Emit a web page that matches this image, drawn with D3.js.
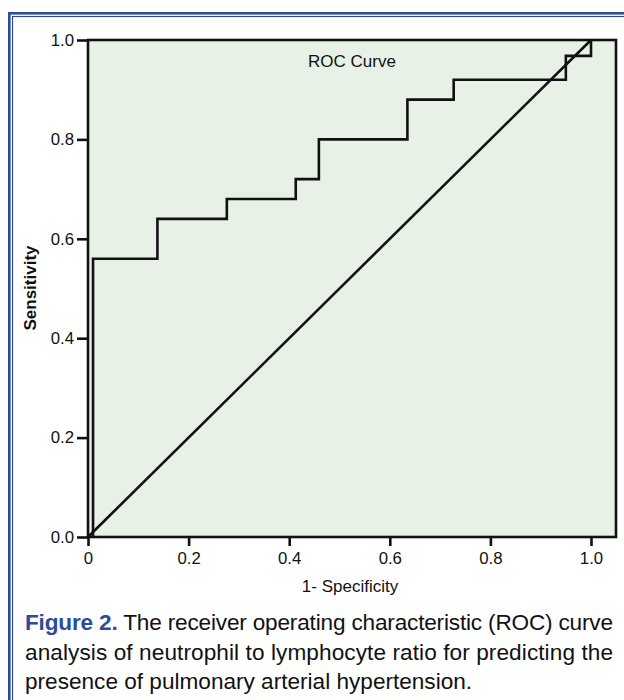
<!DOCTYPE html>
<html>
<head>
<meta charset="utf-8">
<script src="https://cdn.jsdelivr.net/npm/d3@7"></script>
<style>
  html, body { margin: 0; padding: 0; background: #fff; }
  body { width: 624px; height: 700px; overflow: hidden; }
</style>
</head>
<body>
<svg id="chart" width="624" height="700" style="display:block"></svg>
<script>
// ROC step points (1 - specificity, sensitivity)
const fpr  = [0.01, 0.01, 0.138, 0.138, 0.276, 0.276, 0.413, 0.413, 0.459, 0.459, 0.635, 0.635, 0.727, 0.727, 0.950, 0.950, 1.0, 1.0];
const sens = [0.0, 0.56, 0.56, 0.64, 0.64, 0.68, 0.68, 0.72, 0.72, 0.80, 0.80, 0.88, 0.88, 0.92, 0.92, 0.968, 0.968, 1.0];
const refLine = [[0, 0], [1, 1]];
const xTicks = [0, 0.2, 0.4, 0.6, 0.8, 1.0];
const xTickLabels = ["0", "0.2", "0.4", "0.6", "0.8", "1.0"];
const yTicks = [0, 0.2, 0.4, 0.6, 0.8, 1.0];
const yTickLabels = ["0.0", "0.2", "0.4", "0.6", "0.8", "1.0"];
const captionLines = [
  "The receiver operating characteristic (ROC) curve",
  "analysis of neutrophil to lymphocyte ratio for predicting the",
  "presence of pulmonary arterial hypertension."
];

const FONT = "Liberation Sans, Arial, Helvetica, sans-serif";
const svg = d3.select("#chart");
const blue = "#2e4b9b";

// double blue border (left and top)
svg.append("rect").attr("x", 9.5).attr("y", 13.5).attr("width", 700).attr("height", 800)
  .attr("fill", "none").attr("stroke", blue).attr("stroke-width", 3);
svg.append("rect").attr("x", 12.5).attr("y", 16.5).attr("width", 700).attr("height", 800)
  .attr("fill", "none").attr("stroke", blue).attr("stroke-width", 1.2);
svg.append("rect").attr("x", 11).attr("y", 15).attr("width", 700).attr("height", 800)
  .attr("fill", "none").attr("stroke", "#fff").attr("stroke-width", 0.8);

const x = d3.scaleLinear().domain([0, 1]).range([88, 591]);
const y = d3.scaleLinear().domain([0, 1]).range([537, 40]);
const xMaxFrame = 616;

// plot background + frame
svg.append("rect").attr("x", x(0)).attr("y", y(1)).attr("width", xMaxFrame - x(0)).attr("height", y(0) - y(1))
  .attr("fill", "#e7f1e6").attr("stroke", "#111").attr("stroke-width", 2.6);

// axes
const xAxis = d3.axisBottom(x).tickValues(xTicks).tickFormat((d, i) => xTickLabels[i]).tickSize(9).tickPadding(6);
const gx = svg.append("g").attr("transform", `translate(0,${y(0)})`).call(xAxis);
gx.select(".domain").remove();
gx.selectAll("line").attr("stroke", "#111").attr("stroke-width", 2.6);
gx.selectAll("text").attr("font-size", 16.8).attr("fill", "#111");

const yAxis = d3.axisLeft(y).tickValues(yTicks).tickFormat((d, i) => yTickLabels[i]).tickSize(11).tickPadding(3);
const gy = svg.append("g").attr("transform", `translate(${x(0)},0)`).call(yAxis);
gy.select(".domain").remove();
gy.selectAll("line").attr("stroke", "#111").attr("stroke-width", 2.6);
gy.selectAll("text").attr("font-size", 16.8).attr("fill", "#111");

// reference diagonal
const line = d3.line().x(d => x(d[0])).y(d => y(d[1]));
svg.append("path").datum(refLine).attr("d", line)
  .attr("fill", "none").attr("stroke", "#111").attr("stroke-width", 2.6);

// ROC curve
const pts = fpr.map((f, i) => [f, sens[i]]);
svg.append("path").datum(pts).attr("d", line)
  .attr("fill", "none").attr("stroke", "#111").attr("stroke-width", 2.6).attr("stroke-linejoin", "miter");

// texts
svg.append("text").attr("x", 352).attr("y", 67).attr("text-anchor", "middle")
  .attr("font-size", 17).attr("fill", "#111").text("ROC Curve");
svg.append("text").attr("x", 350).attr("y", 592).attr("text-anchor", "middle")
  .attr("font-size", 17).attr("fill", "#111").text("1- Specificity");
svg.append("text").attr("transform", "translate(36,288) rotate(-90)").attr("text-anchor", "middle")
  .attr("font-size", 17).attr("font-weight", "bold").attr("fill", "#111").text("Sensitivity");

// caption
const capX = 25, capW = 588, capY0 = 630, capDy = 29.5, capFs = 22.6;
const t1 = svg.append("text").attr("x", capX).attr("y", capY0).attr("font-size", capFs).attr("fill", "#111")
  .attr("textLength", capW).attr("lengthAdjust", "spacing");
t1.append("tspan").attr("font-weight", "bold").attr("fill", blue).text("Figure 2.");
t1.append("tspan").text(" " + captionLines[0]);
svg.append("text").attr("x", capX).attr("y", capY0 + capDy).attr("font-size", capFs).attr("fill", "#111")
  .attr("textLength", capW).attr("lengthAdjust", "spacing").text(captionLines[1]);
svg.append("text").attr("x", capX).attr("y", capY0 + 2 * capDy).attr("font-size", capFs).attr("fill", "#111")
  .text(captionLines[2]);

svg.selectAll("text").attr("font-family", FONT);
</script>
</body>
</html>
